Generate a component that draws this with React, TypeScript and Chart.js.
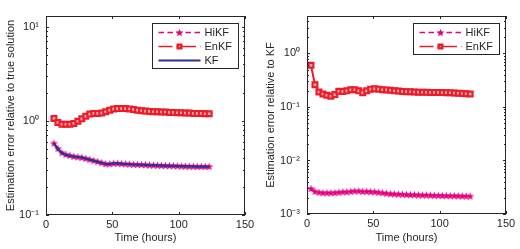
import React, { useEffect, useRef } from 'react';
import { Chart, registerables } from 'chart.js';

Chart.register(...registerables);

// ---------- data ----------
const leftTimes = [6, 9, 12, 15, 18, 21, 24, 27, 30, 33, 36, 39, 42, 45, 48, 51, 54, 57, 60, 63, 66, 69, 72, 75, 78, 81, 84, 87, 90, 93, 96, 99, 102, 105, 108, 111, 114, 117, 120, 123];
const leftHiKF = [0.58, 0.51, 0.46, 0.44, 0.43, 0.42, 0.415, 0.41, 0.40, 0.39, 0.38, 0.37, 0.36, 0.35, 0.35, 0.355, 0.355, 0.352, 0.35, 0.348, 0.346, 0.345, 0.344, 0.342, 0.34, 0.339, 0.338, 0.337, 0.336, 0.335, 0.334, 0.333, 0.332, 0.331, 0.33, 0.33, 0.329, 0.329, 0.328, 0.328];
const leftEnKF = [1.06, 0.96, 0.92, 0.92, 0.92, 0.94, 0.99, 1.05, 1.12, 1.18, 1.2, 1.2, 1.21, 1.25, 1.3, 1.34, 1.35, 1.35, 1.35, 1.34, 1.32, 1.3, 1.28, 1.27, 1.26, 1.25, 1.25, 1.24, 1.24, 1.23, 1.23, 1.22, 1.22, 1.21, 1.21, 1.2, 1.2, 1.2, 1.19, 1.19];
const leftKF = [0.575, 0.5, 0.455, 0.435, 0.425, 0.418, 0.413, 0.407, 0.398, 0.387, 0.377, 0.367, 0.357, 0.348, 0.348, 0.353, 0.353, 0.35, 0.348, 0.346, 0.344, 0.343, 0.342, 0.34, 0.338, 0.337, 0.336, 0.335, 0.334, 0.333, 0.332, 0.331, 0.33, 0.329, 0.328, 0.328, 0.327, 0.327, 0.326, 0.326];

const rightTimes = [3, 6, 9, 12, 15, 18, 21, 24, 27, 30, 33, 36, 39, 42, 45, 48, 51, 54, 57, 60, 63, 66, 69, 72, 75, 78, 81, 84, 87, 90, 93, 96, 99, 102, 105, 108, 111, 114, 117, 120, 123];
const rightHiKF = [0.0030, 0.00265, 0.00255, 0.0025, 0.0025, 0.0025, 0.00252, 0.00255, 0.0026, 0.0026, 0.00265, 0.0027, 0.0027, 0.00265, 0.00265, 0.00262, 0.0026, 0.00255, 0.0025, 0.00245, 0.0024, 0.00238, 0.00236, 0.00234, 0.00232, 0.0023, 0.0023, 0.00228, 0.00227, 0.00226, 0.00225, 0.00224, 0.00223, 0.00222, 0.00221, 0.0022, 0.0022, 0.00219, 0.00218, 0.00217, 0.00216];
const rightEnKF = [0.6, 0.26, 0.19, 0.175, 0.165, 0.158, 0.17, 0.197, 0.195, 0.2, 0.21, 0.21, 0.2, 0.185, 0.2, 0.215, 0.218, 0.215, 0.21, 0.208, 0.205, 0.2, 0.198, 0.195, 0.193, 0.192, 0.19, 0.189, 0.188, 0.188, 0.187, 0.187, 0.187, 0.186, 0.185, 0.184, 0.182, 0.18, 0.178, 0.176, 0.174];

const xTickValues = [0, 50, 100, 150];
const leftYTicks = [0.1, 1, 10];
const rightYTicks = [0.001, 0.01, 0.1, 1];
const seriesNames = ['HiKF', 'EnKF', 'KF'];
const xTitle = 'Time (hours)';
const leftYTitle = 'Estimation error relative to true solution';
const rightYTitle = 'Estimation error relative to KF';

// ---------- styles ----------
const HIKF_COLOR = '#e6007e';
const ENKF_COLOR = '#ec1c2a';
const KF_COLOR = '#2e3192';
const TEXT_COLOR = '#262626';
const FONT_FAMILY = "'Liberation Sans', Arial, Helvetica, sans-serif";

function makeStar(color: string, outer: number, inner: number): HTMLCanvasElement {
  const size = Math.ceil(outer * 2 + 2);
  const c = document.createElement('canvas');
  c.width = size;
  c.height = size;
  const ctx = c.getContext('2d')!;
  ctx.fillStyle = color;
  ctx.beginPath();
  for (let i = 0; i < 10; i++) {
    const r = i % 2 === 0 ? outer : inner;
    const a = -Math.PI / 2 + (i * Math.PI) / 5;
    const x = size / 2 + r * Math.cos(a);
    const y = size / 2 + r * Math.sin(a) + 0.4;
    if (i === 0) ctx.moveTo(x, y);
    else ctx.lineTo(x, y);
  }
  ctx.closePath();
  ctx.fill();
  return c;
}

const SUP: Record<string, string> = { '-': '\u207B', '0': '\u2070', '1': '\u00B9', '2': '\u00B2', '3': '\u00B3' };
function logLabel(v: number): string {
  const e = Math.round(Math.log10(v));
  return '10' + String(e).split('').map((ch) => SUP[ch] || ch).join('');
}

const matlabPlugin = {
  id: 'matlabAxes',
  afterDatasetsDraw(chart: any, _args: any, opts: any) {
    const { ctx, chartArea: a } = chart;
    const xs = chart.scales.x;
    const ys = chart.scales.y;
    ctx.save();
    ctx.strokeStyle = TEXT_COLOR;
    ctx.lineWidth = 1;
    ctx.setLineDash([]);
    ctx.beginPath();
    for (const v of xTickValues) {
      const px = Math.round(xs.getPixelForValue(v)) + 0.5;
      ctx.moveTo(px, a.bottom);
      ctx.lineTo(px, a.bottom - 3);
      ctx.moveTo(px, a.top);
      ctx.lineTo(px, a.top + 3);
    }
    const lo = Math.floor(Math.log10(ys.min));
    const hi = Math.ceil(Math.log10(ys.max));
    for (let d = lo; d <= hi; d++) {
      for (let k = 1; k <= 9; k++) {
        const v = k * Math.pow(10, d);
        if (v < ys.min * 0.999 || v > ys.max * 1.001) continue;
        const py = Math.round(ys.getPixelForValue(v)) + 0.5;
        const len = k === 1 ? 3 : 2;
        ctx.moveTo(a.left, py);
        ctx.lineTo(a.left + len, py);
        ctx.moveTo(a.right, py);
        ctx.lineTo(a.right - len, py);
      }
    }
    ctx.stroke();
    ctx.strokeRect(a.left + 0.5, a.top + 0.5, a.right - a.left - 1, a.bottom - a.top - 1);

    // legend
    const items: number[] = opts.items;
    const bw = 86;
    const bh = 14 * items.length + 3;
    const bx = Math.round(a.right - 7 - bw) + 0.5;
    const by = Math.round(a.top + 7) + 0.5;
    ctx.fillStyle = '#ffffff';
    ctx.fillRect(bx, by, bw, bh);
    ctx.strokeStyle = TEXT_COLOR;
    ctx.lineWidth = 1;
    ctx.strokeRect(bx, by, bw, bh);
    items.forEach((di, i) => {
      const ds = chart.data.datasets[di];
      const y = by + 9 + 14 * i;
      const x0 = bx + 6;
      const x1 = bx + 48;
      const xm = bx + 27;
      ctx.save();
      ctx.strokeStyle = ds.borderColor;
      ctx.lineWidth = ds.legendLineWidth || ds.borderWidth;
      ctx.setLineDash(ds.legendDash || []);
      ctx.beginPath();
      ctx.moveTo(x0, y);
      ctx.lineTo(x1, y);
      ctx.stroke();
      ctx.setLineDash([]);
      if (ds.pointStyle && typeof ds.pointStyle === 'object') {
        const img = ds.pointStyle as HTMLCanvasElement;
        ctx.drawImage(img, xm - img.width / 2, y - img.height / 2);
      } else if (ds.pointStyle === 'rect') {
        ctx.fillStyle = ds.pointBorderColor;
        ctx.fillRect(xm - 3, y - 3, 6, 6);
        ctx.fillStyle = '#f7b0b4';
        ctx.fillRect(xm - 0.6, y - 0.6, 1.2, 1.2);
      }
      ctx.restore();
      ctx.fillStyle = TEXT_COLOR;
      ctx.font = `11px ${FONT_FAMILY}`;
      ctx.textBaseline = 'middle';
      ctx.textAlign = 'left';
      ctx.fillText(ds.label, bx + 52, y + 0.5);
    });
    ctx.restore();
  },
};

function toPoints(xs: number[], ys: number[]) {
  return xs.map((x, i) => ({ x, y: ys[i] }));
}

type PanelSpec = {
  datasets: any[];
  legendItems: number[];
  yMin: number;
  yMax: number;
  yTicks: number[];
  yTitle: string;
  axisWidth: number;
  rightPad: number;
  xHeight: number;
};

function makeConfig(spec: PanelSpec): any {
  const font = { family: FONT_FAMILY, size: 11 };
  return {
    type: 'line',
    data: { datasets: spec.datasets },
    options: {
      responsive: false,
      animation: false,
      events: [],
      layout: { padding: { left: 0, top: 16, right: spec.rightPad, bottom: 0 } },
      plugins: {
        legend: { display: false },
        tooltip: { enabled: false },
        matlabAxes: { items: spec.legendItems },
      },
      scales: {
        x: {
          type: 'linear',
          min: 0,
          max: 150,
          afterBuildTicks: (s: any) => {
            s.ticks = xTickValues.map((v) => ({ value: v }));
          },
          afterFit: (s: any) => {
            s.height = spec.xHeight;
          },
          ticks: { font, color: TEXT_COLOR, padding: 3, maxRotation: 0, autoSkip: false },
          grid: { display: false, drawTicks: false },
          border: { display: false },
          title: { display: true, text: xTitle, font, color: TEXT_COLOR, padding: { top: 0, bottom: 4 } },
        },
        y: {
          type: 'logarithmic',
          min: spec.yMin,
          max: spec.yMax,
          afterBuildTicks: (s: any) => {
            s.ticks = spec.yTicks.map((v) => ({ value: v }));
          },
          afterFit: (s: any) => {
            s.width = spec.axisWidth;
          },
          ticks: { font, color: TEXT_COLOR, padding: 7, callback: (v: any) => logLabel(Number(v)) },
          grid: { display: false, drawTicks: false },
          border: { display: false },
          title: { display: true, text: spec.yTitle, font, color: TEXT_COLOR, padding: { top: 4, bottom: 0 } },
        },
      },
    },
    plugins: [matlabPlugin],
  };
}

function Panel({ spec, left }: { spec: () => PanelSpec; left: number }) {
  const ref = useRef<HTMLCanvasElement | null>(null);
  useEffect(() => {
    if (!ref.current) return;
    const chart = new Chart(ref.current, makeConfig(spec()));
    return () => chart.destroy();
  }, []);
  return (
    <canvas
      ref={ref}
      width={260}
      height={249}
      style={{ position: 'absolute', left, top: 0, width: 260, height: 249 }}
    />
  );
}

function hikfDataset(xs: number[], ys: number[], star: HTMLCanvasElement) {
  return {
    label: seriesNames[0],
    data: toPoints(xs, ys),
    borderColor: HIKF_COLOR,
    borderWidth: 1.5,
    borderDash: [5, 3],
    legendDash: [5.5, 3.5],
    legendLineWidth: 1.5,
    pointStyle: star,
    pointRadius: 4,
    pointBorderColor: HIKF_COLOR,
    pointBackgroundColor: HIKF_COLOR,
    tension: 0,
    order: 1,
  };
}

function enkfDataset(xs: number[], ys: number[]) {
  return {
    label: seriesNames[1],
    data: toPoints(xs, ys),
    borderColor: ENKF_COLOR,
    borderWidth: 2,
    borderDash: [],
    legendDash: [14, 4, 1.5, 4],
    legendLineWidth: 1.5,
    pointStyle: 'rect',
    pointRadius: 3.4,
    pointBorderWidth: 2.2,
    pointBorderColor: ENKF_COLOR,
    pointBackgroundColor: '#f7b0b4',
    tension: 0,
    order: 2,
  };
}

function leftSpec(): PanelSpec {
  const star = makeStar(HIKF_COLOR, 4.2, 1.8);
  return {
    datasets: [
      hikfDataset(leftTimes, leftHiKF, star),
      enkfDataset(leftTimes, leftEnKF),
      {
        label: seriesNames[2],
        data: toPoints(leftTimes, leftKF),
        borderColor: KF_COLOR,
        borderWidth: 2.2,
        legendLineWidth: 2,
        pointRadius: 0,
        tension: 0,
        order: 0,
      },
    ],
    legendItems: [0, 1, 2],
    yMin: 0.1,
    yMax: 13,
    yTicks: leftYTicks,
    yTitle: leftYTitle,
    axisWidth: 46,
    rightPad: 15,
    xHeight: 34,
  };
}

function rightSpec(): PanelSpec {
  const star = makeStar(HIKF_COLOR, 4.2, 1.8);
  return {
    datasets: [hikfDataset(rightTimes, rightHiKF, star), enkfDataset(rightTimes, rightEnKF)],
    legendItems: [0, 1],
    yMin: 0.001,
    yMax: 5,
    yTicks: rightYTicks,
    yTitle: rightYTitle,
    axisWidth: 47,
    rightPad: 14,
    xHeight: 35,
  };
}

export default function App() {
  return (
    <div style={{ position: 'absolute', left: 0, top: 0, width: 520, height: 249, background: '#ffffff' }}>
      <Panel spec={leftSpec} left={0} />
      <Panel spec={rightSpec} left={260} />
    </div>
  );
}
